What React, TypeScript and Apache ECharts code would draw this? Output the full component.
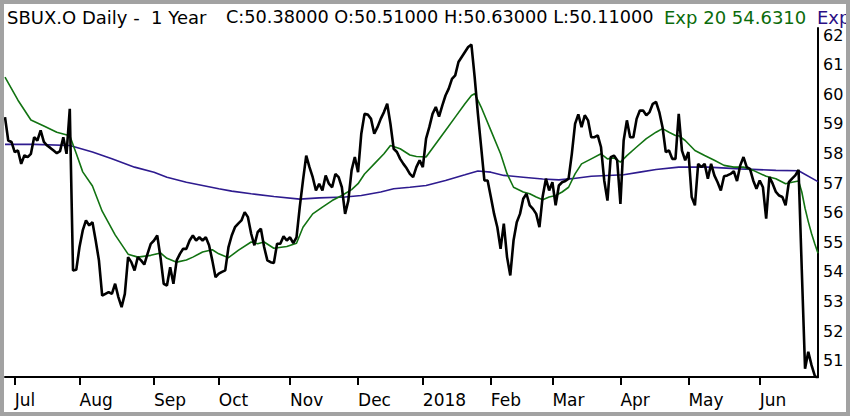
import React, { useEffect, useRef } from 'react';
import * as echarts from 'echarts';

// trading calendar (categories)
const START_DATE = '2017-06-28';
const END_DATE = '2018-06-27';
const HOLIDAYS = ['2017-07-04', '2017-09-04', '2017-11-23', '2017-12-25', '2018-01-01', '2018-01-15', '2018-02-19', '2018-03-30', '2018-05-28'];
const MONTH_LABELS = ['2018', 'Feb', 'Mar', 'Apr', 'May', 'Jun', 'Jul', 'Aug', 'Sep', 'Oct', 'Nov', 'Dec'];

// daily closes
const CLOSE = [
  59.23, 58.44, 58.39, 58.05, 58.10, 57.65, 57.94, 57.88, 57.99, 58.55,
  58.44, 58.78, 58.39, 58.27, 58.19, 58.10, 58.01, 58.08, 58.55, 57.99,
  59.51, 54.05, 54.07, 54.84, 55.40, 55.74, 55.57, 55.68, 55.06, 54.39,
  53.20, 53.26, 53.32, 53.26, 53.60, 53.15, 52.81, 53.26, 54.50, 54.33,
  54.05, 54.50, 54.39, 54.25, 54.61, 54.95, 55.06, 55.23, 54.50, 53.60,
  53.54, 54.16, 53.60, 54.39, 54.61, 54.78, 54.78, 55.06, 55.23, 55.06,
  55.17, 55.06, 55.17, 54.90, 54.39, 53.82, 53.94, 54.00, 54.05, 54.84,
  55.23, 55.51, 55.63, 55.74, 56.02, 55.85, 55.29, 54.90, 55.34, 55.46,
  54.84, 54.39, 54.33, 54.30, 54.95, 54.95, 55.20, 55.06, 55.17, 54.97,
  55.17, 56.19, 57.09, 57.93, 57.54, 57.20, 56.75, 56.98, 56.75, 57.26,
  56.98, 56.86, 57.31, 57.20, 56.86, 55.96, 56.41, 57.43, 57.88, 57.37,
  58.67, 59.34, 59.32, 59.17, 58.67, 58.89, 59.17, 59.40, 59.68, 59.00,
  58.16, 58.05, 57.82, 57.65, 57.50, 57.31, 57.20, 57.54, 57.77, 57.54,
  58.50, 58.89, 59.34, 59.57, 59.25, 59.62, 59.96, 60.19, 60.52, 60.64,
  61.09, 61.26, 61.43, 61.60, 61.68, 60.58, 59.34, 58.22, 57.09, 57.09,
  56.53, 55.96, 55.51, 54.78, 55.63, 54.50, 53.88, 55.06, 55.68, 55.96,
  56.47, 56.64, 56.25, 56.13, 55.96, 55.51, 56.55, 57.15, 56.75, 57.03,
  56.25, 56.92, 57.03, 57.07, 57.15, 57.99, 59.00, 59.32, 58.89, 59.29,
  59.12, 58.55, 58.55, 58.61, 58.22, 57.09, 56.41, 57.88, 57.93, 57.77,
  56.30, 58.44, 59.12, 58.55, 58.55, 59.17, 59.45, 59.45, 59.29, 59.40,
  59.68, 59.74, 59.40, 58.89, 58.05, 58.10, 57.82, 57.82, 59.34, 58.10,
  57.77, 58.05, 56.53, 56.25, 57.65, 57.54, 57.65, 57.15, 57.65, 57.26,
  57.03, 56.75, 57.23, 57.26, 57.31, 57.40, 57.07, 57.60, 57.88, 57.54,
  57.48, 57.09, 56.81, 57.09, 56.86, 55.80, 57.20, 56.98, 56.70, 56.58,
  56.53, 56.25, 57.03, 57.15, 57.26, 57.45, 54.05, 50.73, 51.30, 50.85,
  50.50, 50.38,
];

// Exp 20 (green) read at [day index, value]
const EXP20 = [
  [0, 60.58], [4, 59.8], [8, 59.13], [12, 58.93], [16, 58.72], [20, 58.6], [22, 58.0], [24, 57.38],
  [27, 56.9], [30, 56.05], [34, 55.25], [38, 54.6], [41, 54.5], [45, 54.56], [48, 54.64], [50, 54.46],
  [53, 54.33], [56, 54.4], [58, 54.5], [61, 54.67], [64, 54.75], [66, 54.61], [69, 54.48], [72, 54.73],
  [76, 55.01], [78, 54.95], [80, 55.01], [83, 54.8], [87, 54.86], [90, 54.97], [92, 55.51], [95, 55.96],
  [98, 56.19], [101, 56.41], [104, 56.58], [107, 56.78], [109, 56.98], [111, 57.31], [114, 57.65],
  [117, 57.99], [119, 58.27], [122, 58.16], [125, 57.95], [127, 57.9], [130, 57.88], [133, 58.33],
  [136, 58.78], [139, 59.23], [142, 59.68], [144, 59.96], [145, 60.02], [147, 59.57], [150, 58.78],
  [153, 57.99], [155, 57.32], [157, 56.86], [160, 56.7], [162, 56.64], [164, 56.53], [166, 56.44],
  [168, 56.53], [170, 56.58], [172, 56.7], [174, 56.86], [176, 57.31], [178, 57.65], [181, 57.82],
  [184, 57.99], [186, 57.82], [188, 57.85], [190, 57.71], [192, 57.93], [195, 58.22], [198, 58.5],
  [201, 58.72], [203, 58.84], [205, 58.72], [207, 58.61], [208, 58.6], [210, 58.44], [213, 58.1],
  [216, 57.93], [219, 57.77], [222, 57.6], [225, 57.54], [228, 57.54], [231, 57.43], [235, 57.23],
  [238, 57.15], [241, 56.98], [243, 57.03], [245, 57.07], [246, 56.7], [247, 56.15], [248, 55.7],
  [249, 55.3], [250, 54.95], [251, 54.63],
];

// long Exp average (purple) read at [day index, value]
const EXP_LONG = [
  [0, 58.31], [9, 58.31], [20, 58.27], [27, 58.05], [33, 57.82], [40, 57.54], [46, 57.37], [50, 57.2],
  [56, 57.03], [61, 56.92], [66, 56.81], [70, 56.73], [76, 56.64], [83, 56.55], [91, 56.46], [97, 56.5],
  [105, 56.53], [110, 56.58], [116, 56.7], [120, 56.81], [125, 56.86], [130, 56.92], [136, 57.09],
  [142, 57.28], [146, 57.41], [150, 57.37], [154, 57.26], [160, 57.2], [166, 57.14], [171, 57.11],
  [175, 57.15], [181, 57.23], [191, 57.28], [196, 57.37], [201, 57.46], [208, 57.54], [217, 57.54],
  [227, 57.48], [238, 57.43], [245, 57.42], [251, 57.05],
];

const HEADER_MAIN = 'SBUX.O Daily -  1 Year';
const HEADER_OHLC = 'C:50.38000 O:50.51000 H:50.63000 L:50.11000';
const HEADER_EXP20 = 'Exp 20 54.6310';
const HEADER_EXPLONG = 'Exp';

const Y_MIN = 50.45;
const Y_MAX = 62.24;

function buildDates(): string[] {
  const out: string[] = [];
  const [sy, sm, sd] = START_DATE.split('-').map(Number);
  const [ey, em, ed] = END_DATE.split('-').map(Number);
  let t = Date.UTC(sy, sm - 1, sd);
  const end = Date.UTC(ey, em - 1, ed);
  while (t <= end) {
    const d = new Date(t);
    const wd = d.getUTCDay();
    const s = d.toISOString().slice(0, 10);
    if (wd !== 0 && wd !== 6 && HOLIDAYS.indexOf(s) < 0) out.push(s);
    t += 86400000;
  }
  return out;
}

export default function App() {
  const ref = useRef<HTMLDivElement>(null);
  useEffect(() => {
    document.body.style.margin = '0';
    if (!ref.current) return;
    const chart = echarts.init(ref.current, null, { renderer: 'svg' });
    const dates = buildDates();
    const monthOf = (s: string) => Number(s.slice(5, 7));
    const isMonthStart = (idx: number) => idx > 0 && monthOf(dates[idx]) !== monthOf(dates[idx - 1]);
    const font = '"DejaVu Sans", "Noto Sans", sans-serif';
    const headerY = 17;
    const hdr = (x: number, text: string, fill: string, size: number) => ({
      type: 'text', x, y: headerY,
      style: { text, fontSize: size, lineHeight: 16, fontFamily: font, fill, verticalAlign: 'middle' },
    });
    chart.setOption({
      animation: false,
      backgroundColor: '#ffffff',
      grid: { left: 5, right: 32, top: 28, bottom: 39, containLabel: false },
      xAxis: {
        type: 'category',
        data: dates,
        boundaryGap: false,
        axisLine: { show: true, lineStyle: { color: '#000', width: 2 } },
        axisTick: { show: true, interval: (idx: number) => isMonthStart(idx), length: 8, lineStyle: { color: '#000', width: 2 } },
        axisLabel: {
          show: true,
          interval: (idx: number) => isMonthStart(idx),
          formatter: (v: string) => MONTH_LABELS[monthOf(v) - 1],
          align: 'left',
          margin: 14,
          color: '#000',
          fontSize: 17,
          fontFamily: font,
        },
        splitLine: { show: false },
      },
      yAxis: {
        type: 'value',
        position: 'right',
        min: Y_MIN,
        max: Y_MAX,
        splitNumber: 12,
        minInterval: 1,
        maxInterval: 1,
        axisLine: { show: true, lineStyle: { color: '#000', width: 2 } },
        axisTick: { show: false },
        splitLine: { show: false },
        axisLabel: {
          show: true,
          margin: 5,
          color: '#000',
          fontSize: 16,
          lineHeight: 14,
          fontFamily: font,
          showMinLabel: false,
          showMaxLabel: false,
          formatter: (v: number) => (Math.abs(v - Math.round(v)) < 1e-6 ? String(Math.round(v)) : ''),
        },
      },
      series: [
        {
          name: 'ExpLong', type: 'line', data: EXP_LONG, showSymbol: false, symbol: 'none', connectNulls: true,
          lineStyle: { color: '#2e1b8f', width: 1.6 }, z: 2,
        },
        {
          name: 'Exp20', type: 'line', data: EXP20, showSymbol: false, symbol: 'none', connectNulls: true,
          lineStyle: { color: '#127312', width: 1.6 }, z: 3,
        },
        {
          name: 'Close', type: 'line', data: CLOSE, showSymbol: false, symbol: 'none',
          lineStyle: { color: '#000', width: 2.6 }, z: 4,
        },
      ],
      graphic: [
        hdr(7, HEADER_MAIN, '#000', 18),
        hdr(226, HEADER_OHLC, '#000', 17.7),
        hdr(664, HEADER_EXP20, '#0b6b0b', 18),
        hdr(817, HEADER_EXPLONG, '#2a0f85', 18),
        { type: 'rect', shape: { x: 2, y: 2, width: 846, height: 412 }, style: { fill: 'none', stroke: '#a2a2a2', lineWidth: 4 }, z: 100 },
      ],
    });
    return () => chart.dispose();
  }, []);
  return <div ref={ref} style={{ width: 850, height: 416 }} />;
}
